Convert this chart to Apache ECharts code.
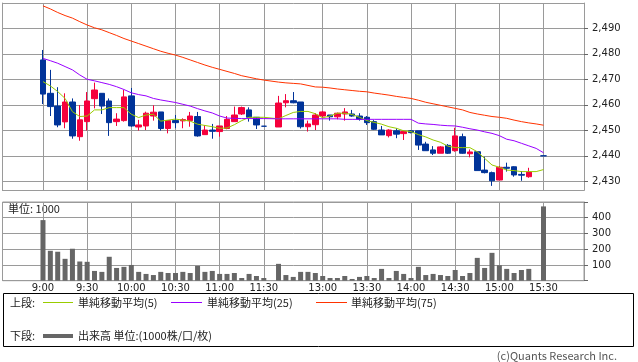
<!DOCTYPE html>
<html><head><meta charset="utf-8">
<script src="https://cdn.jsdelivr.net/npm/echarts@6/dist/echarts.min.js"></script>
<style>html,body{margin:0;padding:0;background:#fff}#c{width:638px;height:362px}</style>
</head><body><div id="c"></div>
<script>
const times = ['9:00','9:05','9:10','9:15','9:20','9:25','9:30','9:35','9:40','9:45','9:50','9:55',
'10:00','10:05','10:10','10:15','10:20','10:25','10:30','10:35','10:40','10:45','10:50','10:55',
'11:00','11:05','11:10','11:15','11:20','11:25','11:30',' ',
'12:30','12:35','12:40','12:45','12:50','12:55',
'13:00','13:05','13:10','13:15','13:20','13:25','13:30','13:35','13:40','13:45','13:50','13:55',
'14:00','14:05','14:10','14:15','14:20','14:25','14:30','14:35','14:40','14:45','14:50','14:55',
'15:00','15:05','15:10','15:15','15:20','15:25','15:30'];
const tickLabels = ['9:00','9:30','10:00','10:30','11:00','11:30','13:00','13:30','14:00','14:30','15:00','15:30'];

const openP = [2477.6,2464.5,2459.5,2453.3,2461.1,2447.5,2453.4,2462.4,2464.5,2461.5,2453.4,2453.8,
2463.5,2451.3,2451.7,2455.6,2457.2,2450.7,2453.8,2453.7,2453.8,2455.4,2448.3,2450.1,
2449.5,2450.7,2453.4,2456.4,2458.0,2455.1,2451.6,null,
2451.3,2460.8,2461.6,2461.1,2451.4,2452.2,
2455.6,2456.0,2455.3,2456.4,2456.4,2455.6,2455.1,2453.4,2450.1,2447.9,2449.8,2448.7,
2449.8,2449.8,2444.6,2442.3,2441.0,2444.1,2442.0,2447.5,2440.8,2441.6,2434.4,2433.4,
2430.5,2435.5,2435.7,2432.7,2431.8,null,2440.0];
const closeP = [2464.2,2459.3,2452.1,2461.1,2447.8,2454.1,2461.5,2465.8,2459.5,2453.0,2454.4,2463.1,
2451.7,2452.1,2456.7,2457.1,2450.7,2453.8,2453.0,2454.2,2455.6,2447.8,2450.1,2449.6,
2451.7,2454.3,2456.0,2458.9,2455.1,2452.1,2451.6,null,
2460.7,2461.6,2460.8,2451.4,2452.5,2456.0,
2457.2,2455.3,2456.7,2457.2,2455.6,2454.3,2453.0,2450.4,2448.2,2450.1,2448.5,2449.5,
2449.1,2444.2,2442.0,2441.0,2443.5,2441.0,2447.8,2441.0,2441.5,2434.2,2433.4,2430.2,
2435.5,2435.1,2432.5,2432.4,2433.6,null,2440.0];
const lowP = [2460.3,2455.6,2451.2,2450.8,2446.7,2445.9,2449.9,2458.6,2456.4,2447.8,2451.7,2453.4,
2451.4,2449.9,2450.1,2453.8,2449.9,2448.8,2450.8,2450.8,2451.4,2447.5,2448.3,2446.7,
2447.5,2450.4,2453.4,2456.0,2453.4,2450.5,2451.6,null,
2451.3,2459.0,2460.6,2450.7,2449.5,2450.1,
2455.0,2453.8,2454.3,2453.8,2455.3,2453.8,2452.1,2450.1,2448.2,2447.2,2446.9,2446.2,
2448.8,2442.3,2442.0,2440.3,2441.0,2440.7,2441.6,2440.8,2439.4,2434.2,2433.1,2428.2,
2430.5,2433.8,2431.8,2430.2,2431.4,null,2440.0];
const highP = [2481.5,2473.7,2466.9,2464.5,2462.5,2459.9,2465.0,2468.7,2464.5,2462.5,2456.7,2465.8,
2466.6,2454.1,2457.3,2459.8,2457.2,2453.8,2456.0,2454.7,2457.2,2457.2,2452.0,2452.5,
2451.7,2455.6,2459.3,2459.3,2459.0,2455.1,2451.6,null,
2463.5,2464.2,2465.0,2461.1,2453.8,2456.7,
2457.6,2456.0,2456.9,2458.7,2458.0,2456.7,2455.6,2454.0,2451.7,2450.4,2450.8,2449.8,
2450.1,2449.8,2445.5,2443.8,2443.8,2444.6,2451.0,2448.7,2442.5,2441.6,2439.6,2433.8,
2436.0,2437.3,2435.9,2434.0,2435.3,null,2440.0];

const ma5 = [2469.1,2467.4,2465.2,2462.5,2457.3,2455.4,2455.6,2458.0,2458.0,2458.9,2458.9,2458.9,
2456.3,2455.0,2456.0,2456.3,2453.6,2454.0,2454.4,2454.0,2453.6,2452.4,2451.9,2451.4,
2450.8,2450.9,2452.2,2453.8,2455.1,2455.1,2455.1,null,
2454.5,2455.8,2457.0,2457.4,2457.4,2456.5,
2454.9,2455.6,2456.7,2456.7,2456.2,2455.1,2453.8,2453.1,2452.4,2451.4,2450.8,2449.8,
2449.5,2448.3,2447.4,2446.2,2445.3,2443.8,2443.2,2443.2,2443.2,2441.6,2439.0,2436.4,
2435.5,2434.4,2434.2,2433.8,2433.8,2433.8,2434.6];
const ma25 = [2478.2,2477.3,2476.3,2475.0,2473.7,2471.7,2470.0,2469.4,2468.7,2468.0,2467.1,2466.0,
2464.7,2464.0,2463.5,2462.5,2461.9,2461.4,2460.9,2460.2,2459.5,2458.5,2457.6,2456.8,
2455.6,2454.8,2454.7,2454.6,2454.6,2454.6,2454.6,null,
2454.5,2454.5,2454.5,2454.5,2454.5,2454.5,
2454.5,2454.5,2454.5,2454.3,2454.3,2454.3,2454.3,2454.3,2454.3,2454.3,2454.3,2454.3,
2454.3,2452.8,2452.5,2452.3,2452.0,2451.8,2451.7,2451.2,2450.6,2450.1,2449.4,2448.8,
2447.9,2446.5,2445.9,2444.9,2443.9,2442.9,2441.2];
const ma75 = [2498.8,2497.6,2496.2,2495.0,2494.0,2492.6,2491.3,2490.2,2489.4,2488.3,2487.2,2486.0,
2485.0,2484.0,2483.0,2482.0,2481.0,2480.2,2479.5,2478.6,2477.6,2476.6,2475.6,2474.7,
2473.9,2473.1,2472.3,2471.4,2470.8,2470.2,2469.7,null,
2468.9,2468.6,2468.4,2468.2,2467.6,2467.0,
2466.9,2466.6,2466.2,2465.9,2465.6,2465.3,2465.1,2464.6,2464.2,2463.8,2463.3,2462.9,
2462.5,2461.8,2461.0,2460.4,2459.8,2459.2,2458.6,2458.0,2457.0,2456.4,2455.9,2455.4,
2455.1,2454.7,2454.0,2453.4,2452.9,2452.5,2452.0];

const volume = [385,190,184,139,203,122,120,62,56,152,81,88,
100,56,43,36,56,49,49,56,49,94,56,62,
43,43,49,17,43,30,17,null,
107,36,24,56,56,49,
30,17,17,30,11,24,30,17,75,17,62,43,
17,88,36,43,36,30,68,30,49,145,81,177,
98,75,49,68,75,null,472];

const PAD = 5;
const cats = [];
for (let i = 0; i < PAD; i++) cats.push('pre' + i);
times.forEach(t => cats.push(t));
for (let i = 0; i < PAD; i++) cats.push('post' + i);
const pad = a => Array(PAD).fill(null).concat(a, Array(PAD).fill(null));
const candle = pad(times.map((t, i) => openP[i] == null ? null : [openP[i], closeP[i], lowP[i], highP[i]])).map(d => d == null ? '-' : d);
const isTick = (idx, name) => tickLabels.indexOf(name) >= 0;

const GRID = '#9a9a9a';
const NUMFONT = 'DejaVu Sans';
const JP = '"Noto Sans CJK JP", sans-serif';
const L = 2.5, W = 581.5;

const chart = echarts.init(document.getElementById('c'));
chart.setOption({
  animation: false,
  backgroundColor: '#fff',
  grid: [
    {left: L, width: W, top: 3.06, height: 187.24, show: false},
    {left: L, width: W, top: 202, height: 78.7, show: true, borderColor: GRID, borderWidth: 1, backgroundColor: 'transparent'}
  ],
  xAxis: [
    {type: 'category', gridIndex: 0, data: cats, boundaryGap: true,
     axisLine: {show: true, onZero: false, lineStyle: {color: GRID}}, axisTick: {show: false}, axisLabel: {show: false},
     splitLine: {show: true, interval: isTick, alignWithLabel: true, lineStyle: {color: GRID, width: 1}}},
    {type: 'category', gridIndex: 1, data: cats, boundaryGap: true,
     axisLine: {show: true, onZero: false, lineStyle: {color: GRID}}, axisTick: {show: false},
     axisLabel: {interval: isTick, color: '#222', fontSize: 10, fontFamily: NUMFONT, margin: 3},
     splitLine: {show: true, interval: isTick, alignWithLabel: true, lineStyle: {color: GRID, width: 1}}}
  ],
  yAxis: [
    {type: 'value', gridIndex: 0, position: 'right', min: 2426.47, max: 2499.9, splitNumber: 7,
     axisLine: {show: true, lineStyle: {color: GRID}},
     axisTick: {show: true, inside: false, length: 4, lineStyle: {color: '#666'}},
     axisLabel: {margin: 8, color: '#222', fontSize: 10, fontFamily: NUMFONT, showMinLabel: false, showMaxLabel: false,
       formatter: v => (Math.abs(v % 10) < 1e-6 ? v.toLocaleString('en-US') : '')},
     splitLine: {show: true, lineStyle: {color: GRID, width: 1}}},
    {type: 'value', gridIndex: 0, position: 'left', min: 2426.47, max: 2499.9,
     axisLine: {show: true, lineStyle: {color: GRID}}, axisTick: {show: false}, axisLabel: {show: false}, splitLine: {show: false}},
    {type: 'value', gridIndex: 1, position: 'right', min: 0, max: 500, interval: 100,
     axisLine: {show: true, lineStyle: {color: GRID}},
     axisTick: {show: true, inside: false, length: 4, lineStyle: {color: '#666'}},
     axisLabel: {margin: 8, color: '#222', fontSize: 10, fontFamily: NUMFONT,
       formatter: v => (v > 0 && v < 500 ? String(v) : '')},
     splitLine: {show: true, lineStyle: {color: GRID, width: 1}}}
  ],
  series: [
    {type: 'candlestick', xAxisIndex: 0, yAxisIndex: 0, data: candle, barWidth: 6,
     itemStyle: {color: '#f5003c', color0: '#003399', borderColor: '#f5003c', borderColor0: '#003399', borderColorDoji: '#003399', borderWidth: 1}},
    {type: 'line', name: 'ma5', xAxisIndex: 0, yAxisIndex: 0, data: pad(ma5), showSymbol: false, connectNulls: true,
     lineStyle: {color: '#99cc00', width: 1}, itemStyle: {color: '#99cc00'}},
    {type: 'line', name: 'ma25', xAxisIndex: 0, yAxisIndex: 0, data: pad(ma25), showSymbol: false, connectNulls: true,
     lineStyle: {color: '#9900ff', width: 1}, itemStyle: {color: '#9900ff'}},
    {type: 'line', name: 'ma75', xAxisIndex: 0, yAxisIndex: 0, data: pad(ma75), showSymbol: false, connectNulls: true,
     lineStyle: {color: '#ff3300', width: 1}, itemStyle: {color: '#ff3300'}},
    {type: 'bar', xAxisIndex: 1, yAxisIndex: 2, data: pad(volume), barWidth: 5, itemStyle: {color: '#666666'}}
  ],
  graphic: [
    {type: 'text', left: 8, top: 203, style: {text: '単位: 1000', font: '11px ' + JP, fill: '#222'}},
    {type: 'rect', shape: {x: 3.5, y: 293.5, width: 630, height: 53}, style: {fill: 'none', stroke: '#000', lineWidth: 1}},
    {type: 'text', x: 10, y: 303, style: {text: '上段:', font: '11px ' + JP, fill: '#222', verticalAlign: 'middle'}},
    {type: 'line', shape: {x1: 43, y1: 302.5, x2: 73, y2: 302.5}, style: {stroke: '#99cc00', lineWidth: 1}},
    {type: 'text', x: 78, y: 303, style: {text: '単純移動平均(5)', font: '11px ' + JP, fill: '#222', verticalAlign: 'middle'}},
    {type: 'line', shape: {x1: 171, y1: 302.5, x2: 202, y2: 302.5}, style: {stroke: '#9900ff', lineWidth: 1}},
    {type: 'text', x: 207, y: 303, style: {text: '単純移動平均(25)', font: '11px ' + JP, fill: '#222', verticalAlign: 'middle'}},
    {type: 'line', shape: {x1: 316, y1: 302.5, x2: 347, y2: 302.5}, style: {stroke: '#ff3300', lineWidth: 1}},
    {type: 'text', x: 351, y: 303, style: {text: '単純移動平均(75)', font: '11px ' + JP, fill: '#222', verticalAlign: 'middle'}},
    {type: 'text', x: 10, y: 336, style: {text: '下段:', font: '11px ' + JP, fill: '#222', verticalAlign: 'middle'}},
    {type: 'line', shape: {x1: 43, y1: 336, x2: 73, y2: 336}, style: {stroke: '#666666', lineWidth: 4}},
    {type: 'text', x: 78, y: 336, style: {text: '出来高 単位:(1000株/口/枚)', font: '11px ' + JP, fill: '#222', verticalAlign: 'middle'}},
    {type: 'text', x: 617, y: 356, style: {text: '(c)Quants Research Inc.', font: '11px ' + JP, fill: '#555', align: 'right', verticalAlign: 'middle'}}
  ]
});
</script></body></html>
